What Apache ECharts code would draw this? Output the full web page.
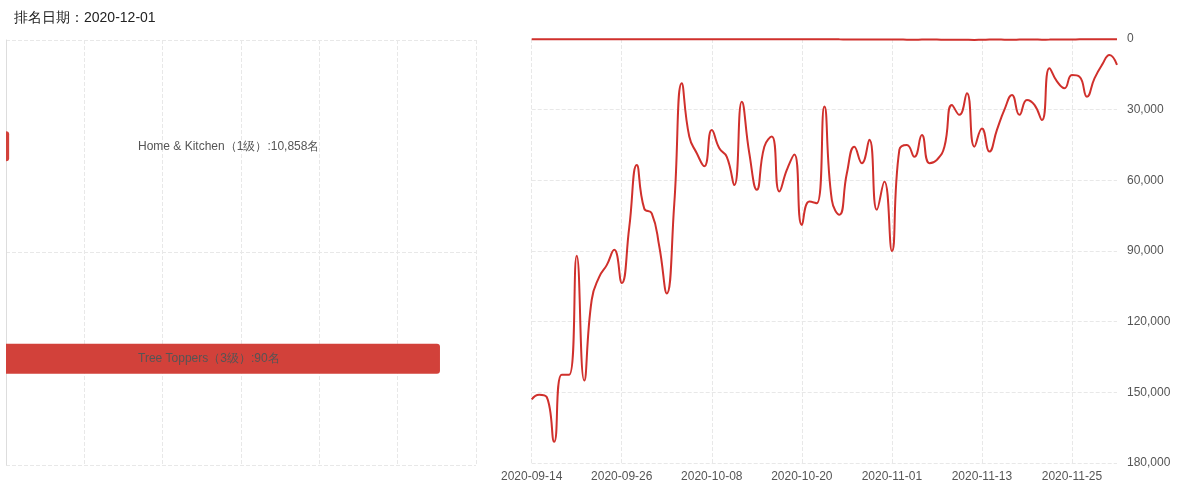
<!DOCTYPE html>
<html>
<head>
<meta charset="utf-8">
<script src="https://cdn.jsdelivr.net/npm/echarts@6/dist/echarts.min.js"></script>
<style>
    body { margin: 0; background: #fff; font-family: "Microsoft YaHei", "Noto Sans CJK SC", sans-serif; }
    #left { position: absolute; left: 0; top: 0; width: 498px; height: 490px; }
    #right { position: absolute; left: 498px; top: 0; width: 690px; height: 490px; }
</style>
</head>
<body>
<div id="left"></div>
<div id="right"></div>
<script>
// bar chart: category names and bar lengths
const barCategories = ["Tree Toppers（3级）:90名", "Home & Kitchen（1级）:10,858名"];
const barValues = [55.4, 0.4];

// line chart: daily ranks from 2020-09-14 to 2020-12-01
const startDate = "2020-09-14";
const rankMain = [
    153000, 151000, 152000, 171000, 142500, 142500, 92000, 145000, 110700, 101000,
    96000, 89500, 103600, 80000, 53500, 72000, 74000, 88000, 108000, 70000,
    18800, 41400, 48500, 54000, 38600, 46400, 50000, 62000, 26600, 48500,
    64000, 45700, 41400, 64700, 55600, 49000, 79000, 69000, 69700, 28700,
    68400, 74600, 57000, 45700, 52700, 42800, 72500, 60500, 90000, 47000,
    45000, 50000, 40800, 52700, 51300, 45700, 28000, 32200, 23000, 45700,
    38000, 47800, 38600, 30000, 23800, 32200, 25900, 28000, 34400, 12400,
    18000, 20900, 15300, 16000, 24500, 16700, 11000, 6800, 11000
];
const rankSub = [
    60, 60, 62, 62, 60, 58, 58, 60, 62, 60,
    60, 58, 60, 62, 60, 60, 58, 60, 62, 60,
    60, 58, 60, 62, 60, 60, 58, 60, 62, 60,
    60, 58, 60, 62, 60, 60, 58, 60, 62, 60,
    60, 150, 200, 250, 220, 260, 240, 210, 230, 250,
    280, 300, 260, 250, 240, 300, 320, 280, 350, 380,
    300, 260, 240, 280, 300, 260, 220, 240, 280, 260,
    220, 200, 180, 150, 120, 100, 95, 92, 90
];

const dates = [];
const d0 = new Date(startDate + "T00:00:00Z");
for (let i = 0; i < rankMain.length; i++) {
    const d = new Date(d0.getTime() + i * 86400000);
    dates.push(d.toISOString().slice(0, 10));
}

const red = "#d0302c";
const gridLine = { show: true, lineStyle: { type: "dashed", color: "#e8e8e8" } };

const leftChart = echarts.init(document.getElementById("left"));
leftChart.setOption({
    animation: false,
    title: {
        text: "排名日期：2020-12-01",
        left: 9, top: 6,
        textStyle: { fontSize: 14, fontWeight: "normal", color: "#222" }
    },
    grid: { left: 6, right: 22, top: 40, bottom: 25 },
    xAxis: {
        type: "value", min: 0, max: 60, interval: 10,
        axisLabel: { show: false }, axisLine: { show: false }, axisTick: { show: false },
        splitLine: gridLine
    },
    yAxis: {
        type: "category", data: barCategories,
        axisLabel: { show: false }, axisTick: { show: false },
        axisLine: { show: true, lineStyle: { color: "#ddd" } },
        splitLine: gridLine
    },
    series: [{
        type: "bar",
        data: barValues,
        barWidth: 30,
        itemStyle: { color: "#d2413a", borderRadius: [0, 3, 3, 0] },
        label: {
            show: true, position: [132, "50%"], verticalAlign: "middle",
            color: "#555", fontSize: 12,
            formatter: (p) => p.name
        }
    }]
});

const rightChart = echarts.init(document.getElementById("right"));
rightChart.setOption({
    animation: false,
    grid: { left: 20, right: 71, top: 39, bottom: 27 },
    xAxis: {
        type: "category", data: dates, boundaryGap: false,
        axisLine: { show: false }, axisTick: { show: false },
        axisLabel: { interval: 11, color: "#555", fontSize: 12, margin: 8 },
        splitLine: { show: true, interval: 11, lineStyle: { type: "dashed", color: "#e8e8e8" } }
    },
    yAxis: {
        type: "value", inverse: true, position: "right",
        min: 0, max: 180000, interval: 30000,
        axisLine: { show: false }, axisTick: { show: false },
        axisLabel: { color: "#555", fontSize: 12, margin: 10,
            formatter: (v) => v.toLocaleString("en-US") },
        splitLine: gridLine
    },
    series: [
        {
            type: "line", data: rankMain, smooth: true, showSymbol: false,
            lineStyle: { color: red, width: 2 }
        },
        {
            type: "line", data: rankSub, smooth: true, showSymbol: false,
            lineStyle: { color: red, width: 2 }
        }
    ]
});
</script>
</body>
</html>
